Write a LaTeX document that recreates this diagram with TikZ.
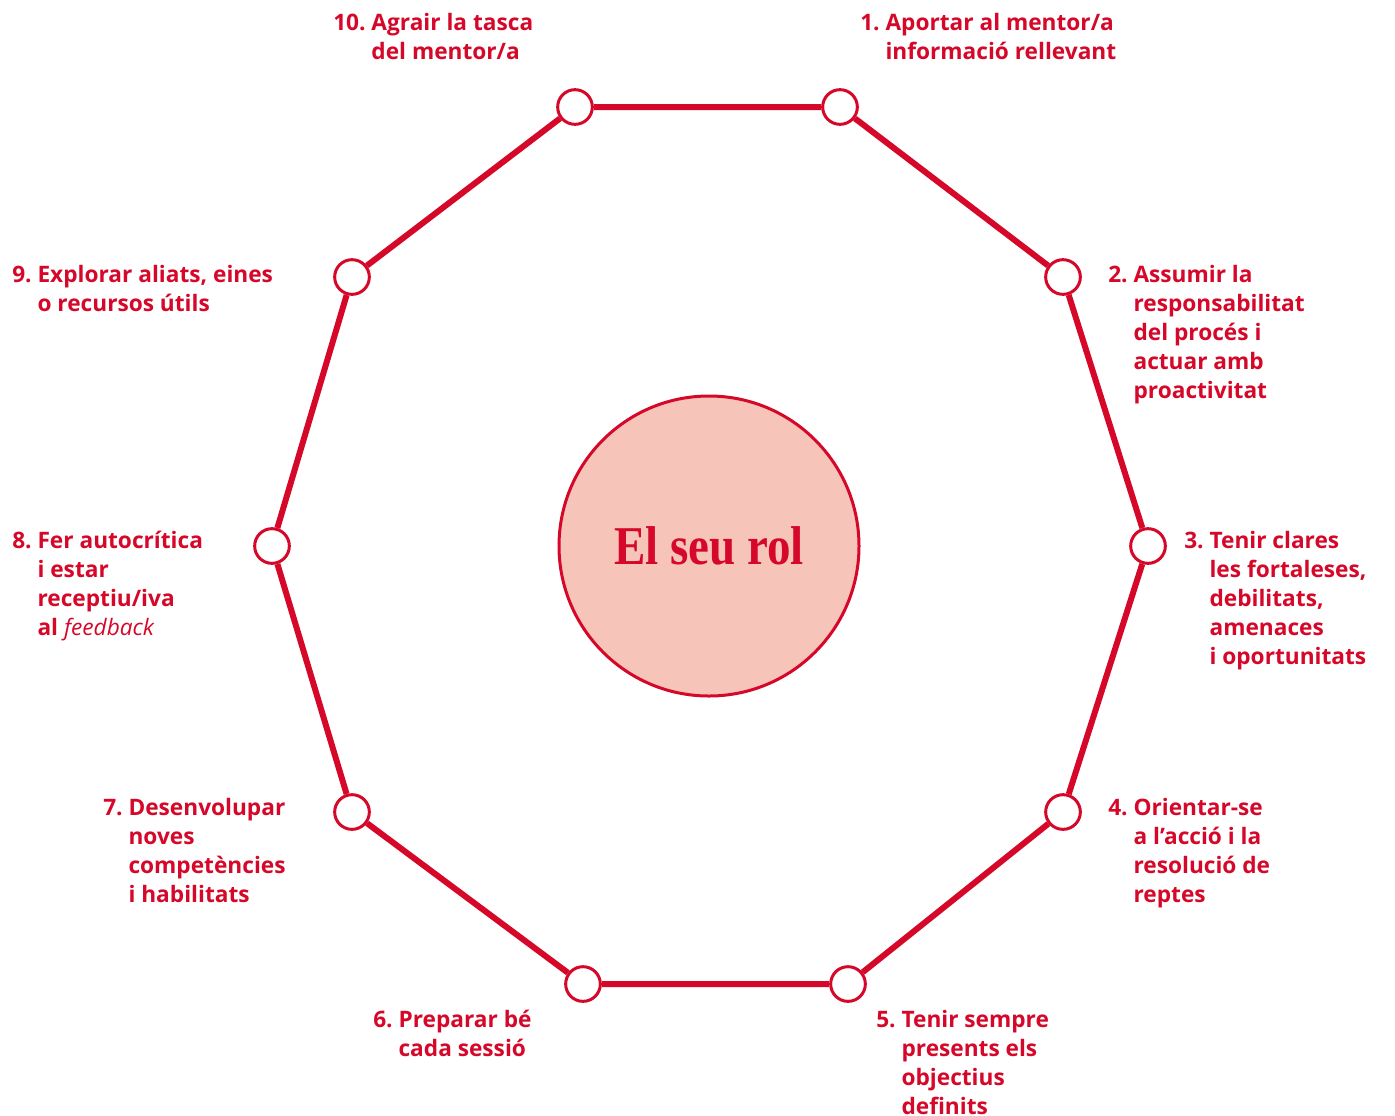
\documentclass[tikz,border=0pt]{standalone}
\usepackage{fontspec}
\setmainfont{Open Sans}
\newfontfamily\titlefont{Liberation Serif}[FakeStretch=0.86]
\definecolor{rolred}{HTML}{D6082A}
\definecolor{rolpink}{HTML}{F7C4BA}
\tikzset{
  waypoint/.style={circle, draw=rolred, fill=white, line width=2.25pt, minimum size=26pt, inner sep=0pt},
  ring/.style={draw=rolred, line width=4.5pt},
  steptext/.style={anchor=base west, inner sep=0pt, text=rolred, font=\bfseries\fontsize{17}{21.75}\selectfont},
}
\begin{document}
\begin{tikzpicture}[x=0.75pt,y=0.75pt,yscale=-1,xscale=1]
\useasboundingbox (0,0) rectangle (1395,1115);

%Centre
\node[circle, draw=rolred, fill=rolpink, line width=2.25pt, minimum size=225pt, inner sep=0pt] (rol) at (709,546) {};
\node[text=rolred, font=\titlefont\bfseries\fontsize{41}{41}\selectfont] (roltext) at (709,546) {El seu rol};

%Decagon
\node[waypoint] (v1) at (840,107) {};
\node[waypoint] (v2) at (1063,277) {};
\node[waypoint] (v3) at (1148,546) {};
\node[waypoint] (v4) at (1063,812) {};
\node[waypoint] (v5) at (848,984) {};
\node[waypoint] (v6) at (583,984) {};
\node[waypoint] (v7) at (352,812) {};
\node[waypoint] (v8) at (272,546) {};
\node[waypoint] (v9) at (352,277) {};
\node[waypoint] (v10) at (575,107) {};
\draw[ring] (v1) -- (v2) -- (v3) -- (v4) -- (v5) -- (v6) -- (v7) -- (v8) -- (v9) -- (v10) -- (v1);

%Labels
\node[steptext] (t1) at (860,30) {\begin{tabular}[t]{@{}l@{\ }l@{}}1. & Aportar al mentor/a\\ & informació rellevant\end{tabular}};
\node[steptext] (t2) at (1108,282) {\begin{tabular}[t]{@{}l@{\ }l@{}}2. & Assumir la\\ & responsabilitat\\ & del procés i\\ & actuar amb\\ & proactivitat\end{tabular}};
\node[steptext] (t3) at (1184,548) {\begin{tabular}[t]{@{}l@{\ }l@{}}3. & Tenir clares\\ & les fortaleses,\\ & debilitats,\\ & amenaces\\ & i oportunitats\end{tabular}};
\node[steptext] (t4) at (1108,815) {\begin{tabular}[t]{@{}l@{\ }l@{}}4. & Orientar-se\\ & a l’acció i la\\ & resolució de\\ & reptes\end{tabular}};
\node[steptext] (t5) at (876,1027) {\begin{tabular}[t]{@{}l@{\ }l@{}}5. & Tenir sempre\\ & presents els\\ & objectius\\ & definits\end{tabular}};
\node[steptext] (t6) at (373,1027) {\begin{tabular}[t]{@{}l@{\ }l@{}}6. & Preparar bé\\ & cada sessió\end{tabular}};
\node[steptext] (t7) at (103,815) {\begin{tabular}[t]{@{}l@{\ }l@{}}7. & Desenvolupar\\ & noves\\ & competències\\ & i habilitats\end{tabular}};
\node[steptext] (t8) at (12,548) {\begin{tabular}[t]{@{}l@{\ }l@{}}8. & Fer autocrítica\\ & i estar\\ & receptiu/iva\\ & al \mdseries\itshape feedback\end{tabular}};
\node[steptext] (t9) at (12,282) {\begin{tabular}[t]{@{}l@{\ }l@{}}9. & Explorar aliats, eines\\ & o recursos útils\end{tabular}};
\node[steptext] (t10) at (333,30) {\begin{tabular}[t]{@{}l@{\ }l@{}}10. & Agrair la tasca\\ & del mentor/a\end{tabular}};

\end{tikzpicture}
\end{document}
